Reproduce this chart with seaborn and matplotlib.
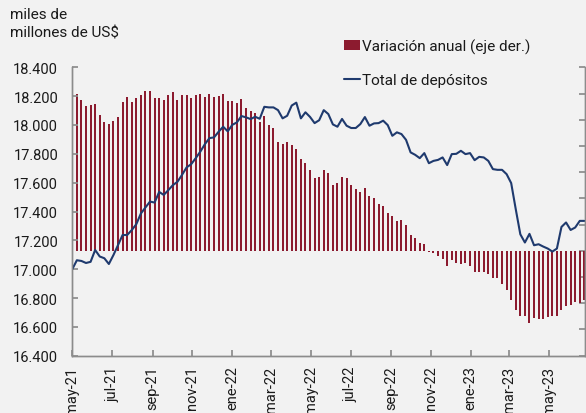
import pandas as pd
import matplotlib
matplotlib.use("Agg")
import matplotlib.pyplot as plt
from matplotlib.patches import Patch
from matplotlib.lines import Line2D
from matplotlib.ticker import FuncFormatter
import seaborn as sns

# datos semanales (may-21 a jun-23)
fechas = pd.date_range("2021-05-01", periods=113, freq="7D")

# variacion anual (%), eje derecho
variacion = [6.13, 6.00, 5.76, 5.53, 5.56, 5.60, 5.18, 4.90, 4.84, 4.94,
             5.11, 5.69, 5.85, 5.69, 5.82, 5.95, 6.08, 6.10, 5.82, 5.82,
             5.76, 5.94, 6.05, 5.75, 5.95, 5.94, 5.83, 5.96, 5.98, 5.85,
             6.00, 5.88, 5.89, 6.00, 5.73, 5.73, 5.64, 5.79, 5.45, 5.33,
             5.27, 4.90, 5.13, 4.80, 4.68, 4.14, 4.07, 4.14, 4.04, 3.88,
             3.50, 3.35, 3.09, 2.76, 2.82, 3.09, 2.98, 2.50, 2.59, 2.80,
             2.79, 2.53, 2.34, 2.23, 2.38, 2.08, 2.01, 1.80, 1.70, 1.44,
             1.31, 1.13, 1.19, 0.98, 0.62, 0.50, 0.28, 0.27, -0.03, -0.10,
             -0.20, -0.30, -0.58, -0.36, -0.47, -0.52, -0.47, -0.56, -0.79, -0.81,
             -0.81, -0.87, -1.04, -1.04, -1.26, -1.51, -1.89, -2.24, -2.47, -2.49,
             -2.76, -2.57, -2.60, -2.60, -2.53, -2.49, -2.49, -2.27, -2.10, -2.05,
             -1.95, -1.98, -1.89]

# total de depositos (miles de millones de US$), eje izquierdo
depositos = [17000, 17062, 17057, 17043, 17051, 17133, 17088, 17076, 17036, 17098,
             17167, 17237, 17237, 17271, 17312, 17386, 17428, 17469, 17462, 17536,
             17515, 17548, 17583, 17606, 17654, 17706, 17728, 17770, 17815, 17867,
             17909, 17914, 17953, 17988, 17956, 18001, 18018, 18062, 18053, 18041,
             18057, 18043, 18126, 18122, 18122, 18103, 18046, 18064, 18135, 18155,
             18046, 18088, 18056, 18013, 18033, 18103, 18076, 18004, 17988, 18042,
             17995, 17979, 17979, 18006, 18055, 17995, 18011, 18013, 18030, 17999,
             17925, 17949, 17937, 17897, 17810, 17793, 17770, 17805, 17735, 17751,
             17758, 17775, 17722, 17798, 17800, 17821, 17798, 17805, 17756, 17779,
             17775, 17751, 17694, 17689, 17689, 17659, 17597, 17416, 17242, 17185,
             17245, 17166, 17173, 17157, 17143, 17122, 17143, 17293, 17324, 17272,
             17289, 17335, 17335]

ticks_fechas = pd.to_datetime(["2021-05-01", "2021-07-01", "2021-09-01", "2021-11-01",
                               "2022-01-01", "2022-03-01", "2022-05-01", "2022-07-01",
                               "2022-09-01", "2022-11-01", "2023-01-01", "2023-03-01",
                               "2023-05-01"])
ticks_labels = ["may-21", "jul-21", "sep-21", "nov-21", "ene-22", "mar-22", "may-22",
                "jul-22", "sep-22", "nov-22", "ene-23", "mar-23", "may-23"]

sns.set_theme(style="white")
plt.rcParams['font.family'] = ['Roboto', 'DejaVu Sans']

fondo = '#f2f2f2'
gris = '#8c8c8c'
rojo = '#8c1b2f'
azul = '#1f3a6e'

fig = plt.figure(figsize=(5.86, 4.14), dpi=100, facecolor=fondo)
ax = fig.add_axes([0.1229, 0.1384, 0.8749, 0.6966])
ax2 = ax.twinx()

# barras: variacion anual (eje derecho)
ax2.bar(fechas, variacion, width=3, color=rojo, linewidth=0)
ax2.set_ylim(-4, 7)
ax2.set_yticks(range(-4, 8))
ax2.set_yticklabels([])

# linea: total de depositos (eje izquierdo)
sns.lineplot(x=fechas, y=depositos, ax=ax, color=azul, linewidth=1.5)
ax.set_ylim(16400, 18400)
ax.set_yticks(range(16400, 18401, 200))
ax.yaxis.set_major_formatter(FuncFormatter(lambda v, p: f"{v:,.0f}".replace(",", ".")))
ax.set_xlim(fechas[0] - pd.Timedelta(hours=10), fechas[-1] + pd.Timedelta(hours=14))
ax.set_xticks(ticks_fechas)
ax.set_xticklabels(ticks_labels, rotation=90)
ax.set_xlabel("")
ax.set_ylabel("")

ax.set_zorder(ax2.get_zorder() + 1)
ax.patch.set_visible(False)
ax2.patch.set_visible(False)

for a in (ax, ax2):
    a.spines['top'].set_visible(False)
    for s in ('left', 'right', 'bottom'):
        a.spines[s].set_color(gris)
        a.spines[s].set_linewidth(1.0)
    a.grid(False)

ax.tick_params(axis='y', direction='in', length=4, color=gris, labelsize=10.5,
               pad=10, labelcolor='#1a1a1a', left=True)
ax.tick_params(axis='x', direction='in', length=4, color=gris, labelsize=10.5,
               pad=7, labelcolor='#1a1a1a', bottom=True)
ax2.tick_params(axis='y', direction='in', length=4, color=gris, right=True)

fig.text(10 / 586, 1 - 8 / 414, "miles de\nmillones de US$", ha='left', va='top',
         fontsize=11, color='#1a1a1a', linespacing=1.4)

handles = [Patch(facecolor=rojo, edgecolor='none'),
           Line2D([0], [0], color=azul, linewidth=1.5)]
fig.legend(handles, ["Variación anual (eje der.)", "Total de depósitos"],
           loc='upper left', bbox_to_anchor=(336 / 586, 1 - 32 / 414),
           frameon=False, fontsize=11, handlelength=1.05, handleheight=0.65,
           handletextpad=0.15, labelspacing=1.25, borderpad=0, labelcolor='#1a1a1a')

fig.savefig("out.png", dpi=100, facecolor=fondo)
